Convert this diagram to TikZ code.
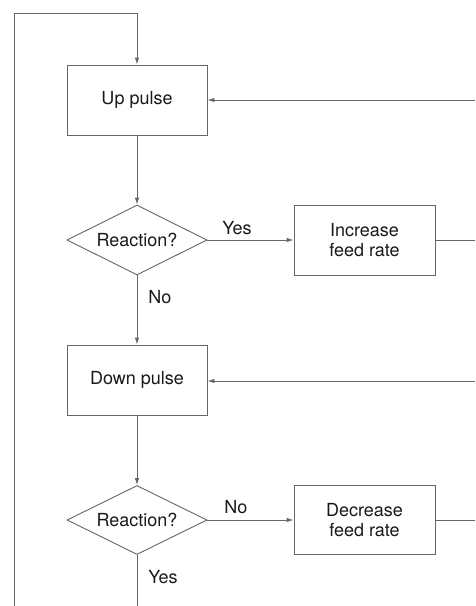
\documentclass[tikz,border=0pt]{standalone}
\usepackage{fontspec}
\setmainfont{TeX Gyre Heros}
\usetikzlibrary{shapes.geometric,arrows.meta}
\begin{document}
\begin{tikzpicture}[x=1pt,y=-1pt,
  line width=0.9pt,
  every node/.style={font=\fontsize{18}{20}\selectfont, text=black!90},
  boxnode/.style={draw=black!60, rectangle, minimum width=140pt, minimum height=70pt, inner sep=0pt, align=center},
  decnode/.style={draw=black!60, diamond, aspect=2, minimum width=140pt, minimum height=70pt, inner sep=0pt},
  conn/.style={draw=black!60},
  arr/.style={conn, -{Latex[length=7pt,width=4.5pt]}},
  lbl/.style={inner sep=0pt}
]
\useasboundingbox (0,0) rectangle (475,606);
\node[boxnode] (up) at (137,100) {Up pulse};
\node[decnode] (d1) at (137,240) {Reaction?};
\node[boxnode, minimum width=141pt] (inc) at (364.5,240) {Increase\\feed rate};
\node[boxnode] (down) at (137,380) {Down pulse};
\node[decnode, minimum height=69pt] (d2) at (137,520) {Reaction?};
\node[boxnode, minimum width=141pt, minimum height=69pt] (dec) at (364.5,520) {Decrease\\feed rate};

\coordinate (lb) at (14,606);
\coordinate (lt) at (14,13);
\coordinate (ut) at (137,13);
\coordinate (r1) at (475,100);
\coordinate (r2) at (475,240);
\coordinate (r3) at (475,381);
\coordinate (r4) at (475,520);
\coordinate (bot) at (137,606);

\draw[arr] (lb) -- (lt) -- (ut) -- (up.north);
\draw[arr] (r1) -- (up.east);
\draw[arr] (up.south) -- (d1.north);
\draw[arr] (d1.east) -- (inc.west);
\draw[conn] (inc.east) -- (r2);
\draw[arr] (d1.south) -- (down.north);
\draw[arr] (r3) -- (down.east |- r3);
\draw[arr] (down.south) -- (d2.north);
\draw[arr] (d2.east) -- (dec.west);
\draw[conn] (dec.east) -- (r4);
\draw[conn] (d2.south) -- (bot);

\node[lbl] (yes1) at (237,228) {Yes};
\node[lbl] (no1) at (160,297) {No};
\node[lbl] (no2) at (236,507) {No};
\node[lbl] (yes2) at (163,577) {Yes};
\end{tikzpicture}
\end{document}
